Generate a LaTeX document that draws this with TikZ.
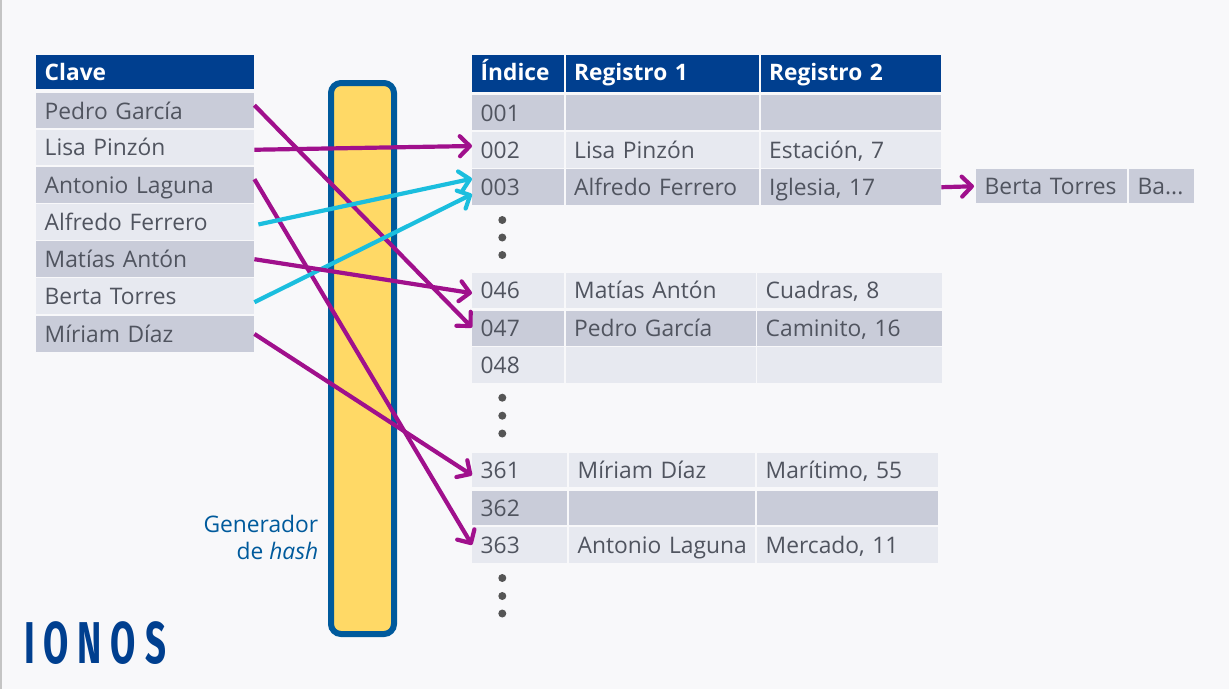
\documentclass[tikz,border=0pt]{standalone}
\usepackage{fontspec}
\setmainfont{Open Sans}
\newfontfamily\logofont[LetterSpace=15,FakeStretch=0.62]{Fira Sans}
\usepackage{xcolor}
\usetikzlibrary{arrows.meta}
\hyphenpenalty=10000
\definecolor{pagebg}{HTML}{F8F8FA}
\definecolor{pageline}{HTML}{C4C4C4}
\definecolor{headbg}{HTML}{003F8F}
\definecolor{rowdark}{HTML}{C9CCD9}
\definecolor{rowlight}{HTML}{E7E9F0}
\definecolor{inktext}{HTML}{50545F}
\definecolor{barfill}{HTML}{FFD966}
\definecolor{barline}{HTML}{005A9C}
\definecolor{magentaline}{HTML}{A0108C}
\definecolor{cyanline}{HTML}{1BBEDE}
\definecolor{dotgray}{HTML}{555555}
\tikzset{
  cell/.style 2 args={anchor=north west, inner xsep=8.5pt, inner ysep=0pt, text width=#1-17pt,
    minimum height=#2, align=left, text height=21pt, text depth=4pt, text=inktext, font=\fontsize{22.8}{26}\selectfont},
  headcell/.style 2 args={cell={#1}{#2}, fill=headbg, text=white, font=\fontsize{22.7}{26}\selectfont\bfseries},
  link/.style={draw=magentaline, line width=4.2pt, -{Straight Barb[length=10pt,width=20pt,line width=4.2pt,round]}},
  linkc/.style={link, draw=cyanline},
  moredot/.style={circle, fill=dotgray, inner sep=0pt, minimum size=8pt}
}
\begin{document}
\begin{tikzpicture}[x=1pt,y=-1pt]
  \useasboundingbox (0,0) rectangle (1229,689);
  \fill[pagebg] (0,0) rectangle (1229,689);
  \fill[pageline] (0,0) rectangle (1.5,689);

  \node[headcell={218pt}{34pt}] (kHead) at (36,55) {Clave};
  \foreach \n/\y/\h/\f/\t in {
    Pedro/93/35/rowdark/Pedro García,
    Lisa/129.5/35.5/rowlight/Lisa Pinzón,
    Antonio/167/36/rowdark/Antonio Laguna,
    Alfredo/204/35.5/rowlight/Alfredo Ferrero,
    Matias/241/36/rowdark/Matías Antón,
    Berta/278/36/rowlight/Berta Torres,
    Miriam/316/35.5/rowdark/Míriam Díaz}
    \node[cell={218pt}{\h pt}, fill=\f] (k\n) at (36,\y) {\t};

  \node[headcell={92pt}{37pt}, text depth=7pt] (hIdx) at (472,55) {Índice};
  \node[headcell={193.5pt}{37pt}, text depth=7pt] (hReg1) at (565.5,55) {Registro 1};
  \node[headcell={180.5pt}{37pt}, text depth=7pt] (hReg2) at (760.5,55) {Registro 2};

  \foreach \n/\y/\h/\f/\a/\b in {
    001/95/35/rowdark//,
    002/131.5/36/rowlight/Lisa Pinzón/{Estación, 7},
    003/169/36/rowdark/Alfredo Ferrero/{Iglesia, 17}}{
    \node[cell={92pt}{\h pt}, fill=\f] (i\n) at (472,\y) {\n};
    \node[cell={193.5pt}{\h pt}, fill=\f] (a\n) at (565.5,\y) {\a};
    \node[cell={180.5pt}{\h pt}, fill=\f] (b\n) at (760.5,\y) {\b};
  }
  \foreach \n/\y/\h/\f/\a/\b in {
    046/273/34.5/rowlight/Matías Antón/{Cuadras, 8},
    047/311/34.5/rowdark/Pedro García/{Caminito, 16},
    048/347/35.5/rowlight//}{
    \node[cell={92pt}{\h pt}, fill=\f] (i\n) at (472,\y) {\n};
    \node[cell={190.5pt}{\h pt}, fill=\f] (a\n) at (565.5,\y) {\a};
    \node[cell={185pt}{\h pt}, fill=\f] (b\n) at (757,\y) {\b};
  }
  \foreach \n/\y/\h/\f/\a/\b in {
    361/452.7/34/rowlight/Míriam Díaz/{Marítimo, 55},
    362/491/34/rowdark//,
    363/526.7/36/rowlight/Antonio~Laguna/{Mercado, 11}}{
    \node[cell={95pt}{\h pt}, fill=\f] (i\n) at (472,\y) {\n};
    \node[cell={186pt}{\h pt}, fill=\f] (a\n) at (569,\y) {\a};
    \node[cell={181pt}{\h pt}, fill=\f] (b\n) at (757,\y) {\b};
  }

  \node[cell={151pt}{34pt}, fill=rowdark] (cBerta) at (976,169) {Berta~Torres};
  \node[cell={65pt}{34pt}, fill=rowdark] (cBa) at (1129,169) {Ba...};

  \foreach \y in {220,237.5,255,397.7,415.7,433.5,578,596,613.5}
    \node[moredot] at (502.3,\y) {};

  \node[draw=barline, fill=barfill, line width=6pt, rounded corners=10pt, minimum width=63pt, minimum height=551pt, inner sep=0pt] (hashBar) at (362.5,358.5) {};
  \node[anchor=north east, align=right, inner sep=0pt, text=barline, font=\fontsize{22.8}{26.7}\selectfont] (hashLab) at (318.5,515) {Generador\\de \textit{hash}};

  \node[anchor=west, inner sep=0pt, text=headbg, font=\fontsize{59}{59}\logofont\bfseries] (logo) at (24,643) {IONOS};

  \draw[link] ([yshift=5.5pt]kPedro.east) -- ([yshift=1pt]i047.west);
  \draw[link] ([yshift=-2.3pt]kLisa.east) -- ([yshift=3.7pt]i002.west);
  \draw[link] ([yshift=6pt]kAntonio.east) -- (i363.west);
  \draw[linkc] ([xshift=4pt,yshift=-2.5pt]kAlfredo.east) -- ([yshift=8.5pt]i003.west);
  \draw[linkc] ([yshift=-6pt]kBerta.east) -- ([yshift=-7pt]i003.west);
  \draw[link] (kMatias.east) -- ([yshift=-2.7pt]i046.west);
  \draw[link] (kMiriam.east) -- ([yshift=-5.3pt]i361.west);
  \draw[link, shorten >=2pt] (b003.east) -- (cBerta.west);
\end{tikzpicture}
\end{document}
